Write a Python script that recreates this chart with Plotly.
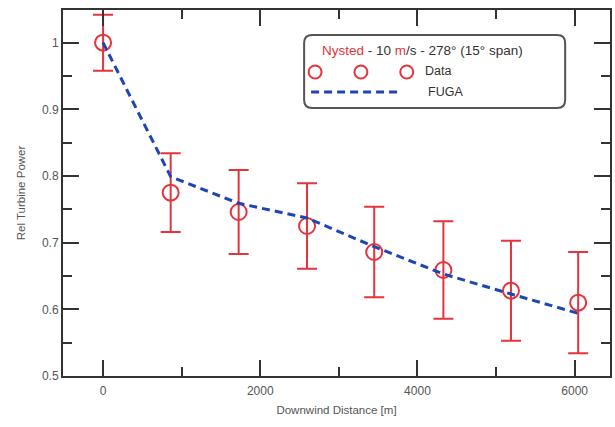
import plotly.graph_objects as go

# ---- data ----
distance = [0, 860, 1725, 2595, 3450, 4330, 5190, 6045]
data_power = [1.0, 0.775, 0.746, 0.725, 0.686, 0.659, 0.628, 0.610]
data_err = [0.042, 0.059, 0.063, 0.064, 0.068, 0.073, 0.075, 0.076]
fuga_power = [1.0, 0.799, 0.759, 0.737, 0.694, 0.653, 0.623, 0.594]

x_ticks = [0, 2000, 4000, 6000]
y_ticks = [0.5, 0.6, 0.7, 0.8, 0.9, 1.0]
y_tick_labels = ["0.5", "0.6", "0.7", "0.8", "0.9", "1"]

RED = "#e4343c"
BLUE = "#1f45b5"
FONT = "Liberation Sans, Arial, sans-serif"

W, H = 615, 427
ML, MR, MT, MB = 63, 3, 10, 51
PW, PH = W - ML - MR, H - MT - MB


def px(x):
    return (x - ML) / PW


def py(y):
    return (H - MB - y) / PH


fig = go.Figure()
fig.add_trace(go.Scatter(
    x=distance, y=data_power, mode="markers", name="Data",
    marker=dict(symbol="circle-open", size=16, color=RED, line=dict(width=2, color=RED)),
    error_y=dict(type="data", array=data_err, color=RED, thickness=2, width=10),
    showlegend=False,
))
fig.add_trace(go.Scatter(
    x=distance, y=fuga_power, mode="lines", name="FUGA",
    line=dict(color=BLUE, width=3, dash="8px,5px"),
    showlegend=False,
))

axis_common = dict(
    showline=True, linecolor="#333", linewidth=2, mirror="ticks",
    ticks="inside", ticklen=16, tickwidth=2, tickcolor="#333",
    showgrid=False, zeroline=False,
    tickfont=dict(family=FONT, size=12, color="#555"),
)

fig.update_xaxes(
    range=[-510, 6450], tickvals=x_ticks, ticklabelstandoff=3,
    minor=dict(dtick=1000, ticks="inside", ticklen=9, tickwidth=2, tickcolor="#333", showgrid=False),
    title=dict(text="Downwind Distance [m]", font=dict(family=FONT, size=11.5, color="#555"), standoff=9),
    **axis_common,
)
fig.update_yaxes(
    range=[0.5, 1.049], tickvals=y_ticks, ticktext=y_tick_labels,
    minor=dict(dtick=0.05, ticks="inside", ticklen=9, tickwidth=2, tickcolor="#333", showgrid=False),
    title=dict(text="Rel Turbine Power", font=dict(family=FONT, size=11.5, color="#555"), standoff=14),
    **axis_common,
)

# ---- hand-drawn style legend box ----
x0, x1, y0, y1 = px(305), px(567), py(108), py(35)
rx, ry = 8 / PW, 8 / PH
path = (f"M {x0+rx},{y0} L {x1-rx},{y0} Q {x1},{y0} {x1},{y0+ry} "
        f"L {x1},{y1-ry} Q {x1},{y1} {x1-rx},{y1} L {x0+rx},{y1} "
        f"Q {x0},{y1} {x0},{y1-ry} L {x0},{y0+ry} Q {x0},{y0} {x0+rx},{y0} Z")
fig.add_shape(type="path", path=path, xref="paper", yref="paper",
              line=dict(color="#555", width=2), fillcolor="white", layer="above")

for cx in (316, 362, 408):
    r = 6.5
    fig.add_shape(type="circle", xref="paper", yref="paper",
                  x0=px(cx - r), x1=px(cx + r), y0=py(72 + r), y1=py(72 - r),
                  line=dict(color=RED, width=2), layer="above")
fig.add_shape(type="line", xref="paper", yref="paper",
              x0=px(312), x1=px(402), y0=py(92), y1=py(92),
              line=dict(color=BLUE, width=3, dash="8px,5px"), layer="above")

fig.add_annotation(xref="paper", yref="paper", x=px(321), y=py(50), xanchor="left", yanchor="middle",
                   text=f"<span style='color:{RED}'>Nysted</span> - 10 <span style='color:{RED}'>m</span>/s - 278° (15° span)",
                   showarrow=False, font=dict(family=FONT, size=13.5, color="#333"))
fig.add_annotation(xref="paper", yref="paper", x=px(424), y=py(71), xanchor="left", yanchor="middle",
                   text="Data", showarrow=False, font=dict(family=FONT, size=12.5, color="#333"))
fig.add_annotation(xref="paper", yref="paper", x=px(427), y=py(92), xanchor="left", yanchor="middle",
                   text="FUGA", showarrow=False, font=dict(family=FONT, size=12.5, color="#333"))

fig.update_layout(
    width=W, height=H,
    margin=dict(l=ML, r=MR, t=MT, b=MB),
    paper_bgcolor="white", plot_bgcolor="white",
    showlegend=False,
)

fig.write_html("out.html", config={"displayModeBar": False},
               post_script="document.body.style.margin='0';document.body.style.overflow='hidden';")
